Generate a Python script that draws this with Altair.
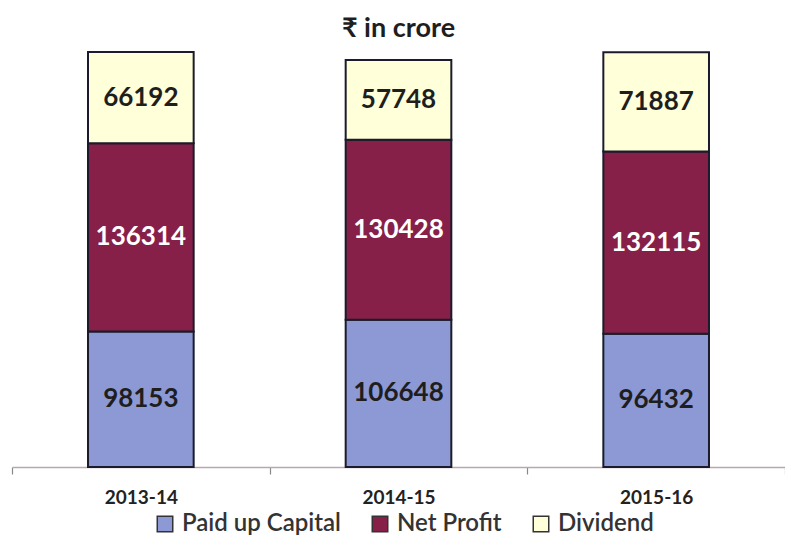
import altair as alt
import pandas as pd

years = ["2013-14", "2014-15", "2015-16"]
series = ["Paid up Capital", "Net Profit", "Dividend"]
paid_up = [98153, 106648, 96432]
net_profit = [136314, 130428, 132115]
dividend = [66192, 57748, 71887]
colors = ["#8d99d4", "#862048", "#ffffd9"]

rows = []
for i, y in enumerate(years):
    for j, (s, vals) in enumerate(zip(series, [paid_up, net_profit, dividend])):
        rows.append({"year": y, "series": s, "value": vals[i], "order": j})
df = pd.DataFrame(rows)

FONT = "Lato"

x_scale = alt.Scale(paddingInner=0, paddingOuter=0)

x_enc = alt.X(
    "year:N",
    sort=years,
    title=None,
    scale=x_scale,
    axis=alt.Axis(
        tickBand="extent",
        domainColor="#bba6ab",
        domainWidth=1.5,
        ticks=True,
        tickColor="#888888",
        tickWidth=1.2,
        tickSize=7,
        labelFontSize=19,
        labelFont=FONT,
        labelFontWeight="bold",
        labelColor="#222222",
        labelPadding=14,
        labelAngle=0,
    ),
)

bars = alt.Chart(df).mark_bar(
    stroke="#1b1b2b", strokeWidth=2, width=alt.RelativeBandSize(0.41)
).encode(
    x=x_enc,
    y=alt.Y("value:Q", stack="zero", axis=None,
            scale=alt.Scale(domain=[0, 310000], nice=False)),
    color=alt.Color(
        "series:N",
        sort=series,
        scale=alt.Scale(domain=series, range=colors),
        legend=alt.Legend(
            orient="none",
            legendX=141,
            legendY=473,
            direction="horizontal",
            title=None,
            symbolType="square",
            symbolSize=240,
            symbolStrokeColor="#333333",
            symbolStrokeWidth=1.5,
            symbolOpacity=1,
            labelFontSize=24,
            labelFont=FONT,
            labelFontWeight=600,
            labelColor="#333333",
            columnPadding=27,
            labelOffset=5,
        ),
    ),
    order=alt.Order("order:Q"),
)

labels = alt.Chart(df).transform_stack(
    stack="value", groupby=["year"], sort=[alt.SortField("order")], as_=["y0", "y1"]
).transform_calculate(
    mid="(datum.y0 + datum.y1) / 2"
).mark_text(fontSize=26, font=FONT, fontWeight="bold", baseline="middle").encode(
    x=alt.X("year:N", sort=years, scale=x_scale),
    y=alt.Y("mid:Q"),
    text=alt.Text("value:Q", format="d"),
    color=alt.condition(alt.datum.series == "Net Profit",
                        alt.value("#ffffff"), alt.value("#1e1e1e")),
)

chart = alt.layer(bars, labels).properties(
    width=773,
    height=428,
    title=alt.TitleParams("₹ in crore", fontSize=27, font=FONT, fontWeight="bold",
                          color="#1e1e1e", offset=-4),
    padding={"left": 4, "top": 31, "right": 0, "bottom": 70},
    autosize=alt.AutoSizeParams(type="none"),
).configure_view(stroke=None)

chart.save("out.html", embed_options={"renderer": "svg", "actions": False})
